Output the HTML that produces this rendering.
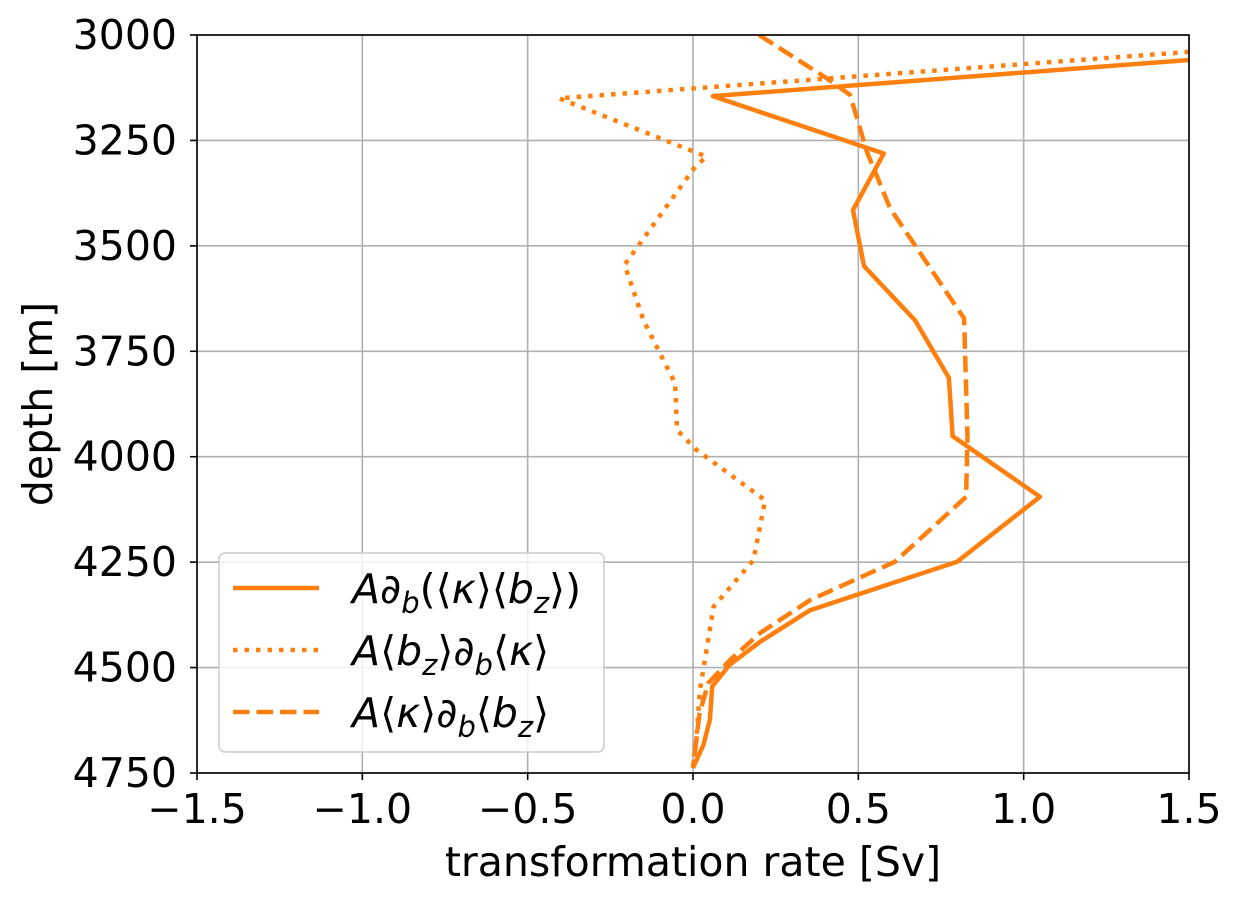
<!DOCTYPE html>
<html><head><meta charset="utf-8"><style>
body{margin:0;background:#fff;}
svg text{font-family:"DejaVu Sans","Liberation Sans",sans-serif;fill:#000;}
</style></head><body>
<svg id="chart" width="1241" height="905" viewBox="0 0 1241 905" xmlns="http://www.w3.org/2000/svg">
<defs><clipPath id="clip"><rect x="197" y="35" width="992" height="738"/></clipPath></defs>
<g id="grid"></g>
<g id="series" clip-path="url(#clip)"></g>
<rect x="197" y="35" width="992" height="738" fill="none" stroke="#000" stroke-width="1.6"/>
<g id="ticks"></g>
<text x="693" y="876" font-size="41" text-anchor="middle">transformation rate [Sv]</text>
<text x="52" y="404" font-size="41" text-anchor="middle" transform="rotate(-90 52 404)">depth [m]</text>
<g>
<rect x="219" y="553" width="385" height="199" rx="6" fill="#fff" fill-opacity="0.8" stroke="#ccc" stroke-width="1.5"/>
<line x1="233" y1="588" x2="319" y2="588" stroke="#ff7f0e" stroke-width="4.5"/>
<line x1="233" y1="650" x2="319" y2="650" stroke="#ff7f0e" stroke-width="4.5" stroke-dasharray="4.5,7"/>
<line x1="233" y1="712" x2="319" y2="712" stroke="#ff7f0e" stroke-width="4.5" stroke-dasharray="16.5,7"/>
<text x="352" y="603" font-size="41" font-style="italic">A∂<tspan font-size="29" dy="10">b</tspan><tspan dy="-10" font-style="normal">(⟨</tspan>κ<tspan font-style="normal">⟩⟨</tspan>b<tspan font-size="29" dy="10">z</tspan><tspan dy="-10" font-style="normal">⟩)</tspan></text>
<text x="352" y="665" font-size="41" font-style="italic">A<tspan font-style="normal">⟨</tspan>b<tspan font-size="29" dy="10">z</tspan><tspan dy="-10" font-style="normal">⟩</tspan>∂<tspan font-size="29" dy="10">b</tspan><tspan dy="-10" font-style="normal">⟨</tspan>κ<tspan font-style="normal">⟩</tspan></text>
<text x="352" y="727" font-size="41" font-style="italic">A<tspan font-style="normal">⟨</tspan>κ<tspan font-style="normal">⟩</tspan>∂<tspan font-size="29" dy="10">b</tspan><tspan dy="-10" font-style="normal">⟨</tspan>b<tspan font-size="29" dy="10">z</tspan><tspan dy="-10" font-style="normal">⟩</tspan></text>
</g>
</svg>
<script>
const xTicks = [-1.5, -1.0, -0.5, 0.0, 0.5, 1.0, 1.5];
const xTickLabels = ["−1.5", "−1.0", "−0.5", "0.0", "0.5", "1.0", "1.5"];
const yTicks = [3000, 3250, 3500, 3750, 4000, 4250, 4500, 4750];
const solidDepth = [3058, 3145, 3281, 3415, 3548, 3677, 3813, 3951, 4095, 4249, 4364, 4439, 4494, 4545, 4624, 4684, 4738];
const solidValue = [1.52, 0.06, 0.577, 0.484, 0.517, 0.672, 0.774, 0.785, 1.049, 0.799, 0.354, 0.203, 0.11, 0.058, 0.051, 0.031, 0.0];
const dottedDepth = [3040, 3150, 3288, 3316, 3545, 3676, 3826, 3937, 3984, 4103, 4245, 4356, 4482, 4553, 4664, 4738];
const dottedValue = [1.5, -0.405, 0.04, 0.003, -0.207, -0.15, -0.054, -0.048, 0.011, 0.218, 0.183, 0.062, 0.036, 0.021, 0.011, 0.0];
const dashedDepth = [3000, 3103, 3142, 3277, 3411, 3672, 3952, 4095, 4249, 4340, 4418, 4482, 4537, 4608, 4738];
const dashedValue = [0.2, 0.405, 0.475, 0.526, 0.596, 0.82, 0.83, 0.826, 0.611, 0.354, 0.203, 0.112, 0.046, 0.02, 0.0];

const NS = "http://www.w3.org/2000/svg";
const X0 = 197, X1 = 1189, Y0 = 35, Y1 = 773;
function xs(v){ return X0 + (v + 1.5) / 3 * (X1 - X0); }
function ys(d){ return Y0 + (d - 3000) / 1750 * (Y1 - Y0); }
function mk(tag, attrs, parent){ const e = document.createElementNS(NS, tag); for (const k in attrs) e.setAttribute(k, attrs[k]); parent.appendChild(e); return e; }

const grid = document.getElementById("grid");
const ticks = document.getElementById("ticks");
xTicks.forEach((v, i) => {
  const g = mk("line", {x1: xs(v), x2: xs(v), y1: Y0, y2: Y1, stroke: "#b0b0b0", "stroke-width": 1.6}, grid);
  
  
  const t = mk("line", {x1: xs(v), x2: xs(v), y1: Y1, y2: Y1 + 7, stroke: "#000", "stroke-width": 1.6}, ticks);
  
  
  const l = mk("text", {x: xs(v), y: Y1 + 50, "font-size": 41, "text-anchor": "middle"}, ticks);
  l.textContent = xTickLabels[i];
  
  
});
yTicks.forEach(d => {
  const g = mk("line", {x1: X0, x2: X1, y1: ys(d), y2: ys(d), stroke: "#b0b0b0", "stroke-width": 1.6}, grid);
  
  
  const t = mk("line", {x1: X0 - 7, x2: X0, y1: ys(d), y2: ys(d), stroke: "#000", "stroke-width": 1.6}, ticks);
  
  
  const l = mk("text", {x: X0 - 20, y: ys(d) + 14, "font-size": 41, "text-anchor": "end"}, ticks);
  l.textContent = String(d);
  
  
});

const series = document.getElementById("series");
function draw(vals, depths, dash, name){
  const pts = vals.map((v, i) => xs(v).toFixed(1) + "," + ys(depths[i]).toFixed(1)).join(" ");
  const p = mk("polyline", {points: pts, fill: "none", stroke: "#ff7f0e", "stroke-width": 4.5, "stroke-linejoin": "round"}, series);
  if (dash) p.setAttribute("stroke-dasharray", dash);
  
  
}
draw(solidValue, solidDepth, null, 'solid-series-line');
draw(dottedValue, dottedDepth, "4.5,7", 'dotted-series-line');
draw(dashedValue, dashedDepth, "16.5,7", 'dashed-series-line');
</script>
</body></html>
